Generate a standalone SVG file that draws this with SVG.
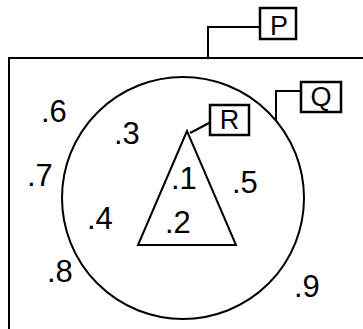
<svg xmlns="http://www.w3.org/2000/svg" width="363" height="329" viewBox="0 0 363 329">
<style>
.ln{fill:none;stroke:#000;stroke-width:2}
.bx{fill:#fff;stroke:#000;stroke-width:2.5}
.t{font-family:"Liberation Sans",Arial,sans-serif;font-size:31px;fill:#000}
.bt{font-family:"Liberation Sans",Arial,sans-serif;font-size:27px;fill:#000;text-anchor:middle}
</style>
<rect width="363" height="329" fill="#fff"/>
<g id="connectors">
<path class="ln" d="M208,58 V27 H260"/>
<path class="ln" d="M276,120 V91 H301"/>
<path class="ln" d="M190,133 L211,122"/>
</g>
<g id="P_set">
<path class="ln" d="M9,329 V58 H363"/>
</g>
<g id="Q_set">
<circle class="ln" cx="183" cy="198" r="121"/>
</g>
<g id="R_set">
<polygon class="ln" points="187,131 138,245 236,245"/>
</g>
<g id="P"><rect class="bx" x="260" y="8" width="36" height="31"/><text class="bt" x="279" y="35">P</text></g>
<g id="Q"><rect class="bx" x="301" y="82" width="40" height="30"/><text class="bt" x="321" y="106">Q</text></g>
<g id="R"><rect class="bx" x="210" y="105" width="39" height="30"/><text class="bt" x="229.5" y="129">R</text></g>
<g id="labels">
<text class="t" x="41" y="122">.6</text>
<text class="t" x="114" y="144">.3</text>
<text class="t" x="27" y="186">.7</text>
<text class="t" x="171" y="189">.1</text>
<text class="t" x="232" y="193">.5</text>
<text class="t" x="165" y="233">.2</text>
<text class="t" x="87" y="229">.4</text>
<text class="t" x="47" y="282">.8</text>
<text class="t" x="294" y="297">.9</text>
</g>
</svg>
